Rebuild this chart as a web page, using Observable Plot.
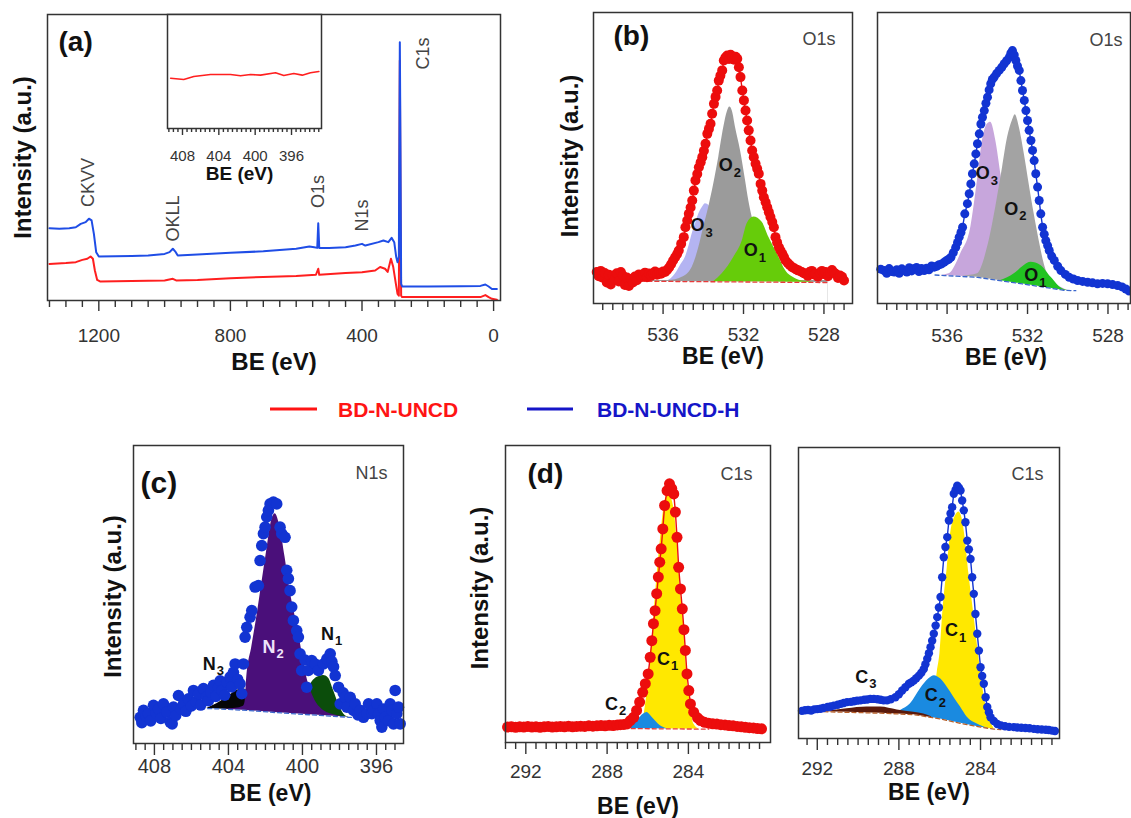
<!DOCTYPE html>
<html>
<head>
<meta charset="utf-8">
<script src="https://cdn.jsdelivr.net/npm/d3@7"></script>
<script src="https://cdn.jsdelivr.net/npm/@observablehq/plot@0.6"></script>
<style>
  html, body { margin: 0; padding: 0; background: #fff; }
  #fig { position: relative; width: 1131px; height: 818px; overflow: hidden; background: #fff; }
</style>
</head>
<body>
<div id="fig"></div>
<script>
// ---------------- DATA ----------------
const seriesNames = ["BD-N-UNCD", "BD-N-UNCD-H"];

// (a) survey spectra [BE eV, intensity a.u.]
const surveyRed = [[1350,12.8],[1300,13.1],[1270,13.4],[1250,14.2],[1235,14.6],[1225,15.4],[1218,14.6],[1212,10.5],[1205,7.2],[1195,6.6],[1100,6.8],[1000,7.0],[975,7.6],[965,7.0],[900,7.2],[800,7.8],[700,8.2],[600,8.6],[540,9.0],[533,11.1],[530,9.0],[450,9.6],[400,9.9],[360,10.5],[345,11.7],[330,11.1],[322,10.0],[312,14.6],[305,11.7],[297,5.8],[292,2.3],[288,1.7],[285,83.9],[283,35],[281,1.7],[278,1.2],[200,1.2],[40,1.2],[25,1.9],[15,1.2],[5,0.6],[-10,0.3]];
const surveyBlue = [[1350,25.3],[1320,25.1],[1290,25.3],[1270,25.6],[1255,26.8],[1240,27.4],[1230,28.6],[1222,28.0],[1215,23.3],[1208,16.9],[1200,15.4],[1150,15.5],[1100,15.6],[1050,15.7],[1000,16.3],[985,16.9],[975,18.1],[968,17.2],[960,15.7],[900,16.1],[800,16.7],[700,17.2],[600,18.1],[560,18.9],[545,18.6],[536,18.4],[533,27.0],[530,18.4],[500,18.4],[450,18.6],[420,19.2],[400,19.8],[390,19.2],[350,20.4],[335,21.0],[320,20.4],[310,21.9],[302,20.4],[296,15.2],[292,13.4],[288,15.2],[285,90.3],[283,52.4],[281,5.8],[278,4.9],[200,4.9],[100,5.0],[40,5.1],[25,5.6],[15,4.9],[5,4.0],[-10,4.0]];
const surveyPeaks = [{x:1231,y:41.3,t:"CKVV"},{x:972.6,y:28.7,t:"OKLL"},{x:532,y:38.1,t:"O1s"},{x:398,y:29.7,t:"N1s"},{x:212.8,y:86.4,t:"C1s"}];
const insetRed = [[409.3,44.1],[407.86,43.0],[406.76,45.6],[404.92,47.4],[402.72,47.4],[401.61,46.2],[400.51,47.4],[399.41,46.8],[397.76,48.9],[396.85,46.5],[395.75,48.2],[394.82,46.8],[393.91,48.9],[392.99,50.0]];

// (b) O1s, BD-N-UNCD
const o1sRed = [[539.3,10.8],[539.2,9.4],[539.1,11.2],[539.0,8.9],[538.9,10.5],[538.8,7.2],[538.7,9.9],[538.6,6.5],[538.5,9.6],[538.4,8.4],[538.3,10.4],[538.2,7.6],[538.1,10.8],[538.0,9.6],[537.9,6.4],[537.8,8.9],[537.7,6.0],[537.6,8.4],[537.5,7.2],[537.4,9.3],[537.3,8.0],[537.2,10.0],[537.1,9.2],[537.0,9.8],[536.9,10.6],[536.8,9.0],[536.7,10.3],[536.6,9.5],[536.5,10.4],[536.4,11.0],[536.3,9.9],[536.2,10.6],[536.1,10.2],[536.0,11.0],[535.9,10.8],[535.8,11.5],[535.7,12.4],[535.6,13.5],[535.5,14.8],[535.4,15.9],[535.3,17.0],[535.22,18.2],[535.1,20.5],[534.97,22.8],[534.89,26.2],[534.8,28.5],[534.72,30.8],[534.63,33.0],[534.55,35.4],[534.47,38.8],[534.39,42.3],[534.3,44.5],[534.22,46.8],[534.13,48.5],[534.05,50.3],[533.97,52.5],[533.89,54.9],[533.8,58.3],[533.72,60.0],[533.64,61.8],[533.56,65.2],[533.47,68.6],[533.39,71.0],[533.31,73.2],[533.23,76.6],[533.15,78.3],[533.06,80.1],[532.98,83.5],[532.9,84.5],[532.81,85.2],[532.72,84.0],[532.64,85.5],[532.56,84.6],[532.47,83.8],[532.39,84.8],[532.31,84.1],[532.23,81.2],[532.15,77.8],[532.06,73.2],[531.98,69.8],[531.9,66.3],[531.82,62.9],[531.74,59.5],[531.65,56.0],[531.57,52.6],[531.49,50.3],[531.4,48.0],[531.32,46.3],[531.24,44.6],[531.15,41.1],[531.07,38.8],[530.99,36.5],[530.9,34.8],[530.82,33.1],[530.74,31.4],[530.66,29.7],[530.57,28.0],[530.49,26.2],[530.41,22.8],[530.33,21.0],[530.24,19.3],[530.16,18.2],[530.07,17.1],[529.99,16.0],[529.91,14.8],[529.8,13.9],[529.7,13.2],[529.58,12.5],[529.46,12.0],[529.35,11.6],[529.25,11.3],[529.1,10.8],[529.0,10.4],[528.92,10.2],[528.8,9.5],[528.7,10.9],[528.6,11.2],[528.5,10.0],[528.42,10.2],[528.3,9.2],[528.2,10.6],[528.1,11.2],[528.0,10.1],[527.92,10.8],[527.8,9.4],[527.7,10.5],[527.6,11.5],[527.5,10.6],[527.42,10.2],[527.3,8.8],[527.2,9.6],[527.1,9.2],[527.0,7.9]];
const o1sRedBase = [[537.8,7.6],[536,7.6],[534,7.5],[532,7.4],[530,7.3],[527.8,7.2]];
const o1sRedO3 = [[535.9,7.6],[535.6,8.5],[535.38,10.2],[535.1,13.5],[534.89,15.9],[534.7,20.0],[534.55,24.0],[534.38,27.5],[534.22,30.8],[534.05,33.0],[533.89,34.3],[533.7,33.5],[533.5,30.0],[533.2,22.0],[532.9,15.0],[532.6,10.5],[532.2,8.0],[531.8,7.4]];
const o1sRedO2 = [[537.7,7.9],[536.5,7.9],[535.72,7.9],[535.05,9.0],[534.55,12.5],[534.22,19.3],[533.98,26.2],[533.73,33.1],[533.48,41.1],[533.23,50.3],[532.98,60.6],[532.8,66.0],[532.68,67.5],[532.55,66.0],[532.4,60.6],[532.15,52.6],[531.9,42.3],[531.74,35.4],[531.57,29.7],[531.24,20.5],[530.9,13.6],[530.41,9.6],[529.75,8.1],[528.5,7.9],[527.8,7.9]];
const o1sRedO1 = [[533.5,7.4],[533.06,10.2],[532.48,15.9],[532.06,21.6],[531.82,27.4],[531.49,29.7],[531.07,27.9],[530.74,22.8],[530.32,17.1],[529.91,11.3],[529.41,8.5],[529.08,7.7],[528.6,7.4]];
const o1sRedLabels = [{x:532.53,y:47.4,t:"O",s:"2"},{x:533.94,y:26.8,t:"O",s:"3"},{x:531.29,y:18.2,t:"O",s:"1"}];

// (b) O1s, BD-N-UNCD-H
const o1sBlue = [[539.3,11.8],[539.13,11.3],[539.0,10.4],[538.88,12.0],[538.75,11.0],[538.63,10.8],[538.5,11.6],[538.38,10.4],[538.25,11.9],[538.13,11.3],[538.0,10.8],[537.88,12.3],[537.76,11.2],[537.64,11.9],[537.52,12.4],[537.4,11.0],[537.27,12.0],[537.14,11.3],[537.02,12.1],[536.9,11.6],[536.77,12.9],[536.64,12.5],[536.52,12.8],[536.4,13.3],[536.27,13.6],[536.14,14.2],[536.02,14.8],[535.92,15.2],[535.81,15.9],[535.69,17.5],[535.57,19.3],[535.48,21.0],[535.40,22.8],[535.31,24.4],[535.23,26.2],[535.12,30.8],[534.99,34.3],[534.90,37.7],[534.82,41.1],[534.74,44.6],[534.65,48.0],[534.57,51.4],[534.49,54.9],[534.40,58.3],[534.32,61.7],[534.24,64.0],[534.15,66.3],[534.07,68.8],[533.99,70.9],[533.91,73.4],[533.83,75.5],[533.75,77.0],[533.66,77.8],[533.54,79.0],[533.41,80.1],[533.28,81.2],[533.16,82.4],[533.04,83.4],[532.91,84.6],[532.83,86.0],[532.75,86.9],[532.66,85.4],[532.58,83.5],[532.50,81.6],[532.41,80.1],[532.33,76.6],[532.25,73.2],[532.16,69.8],[532.08,66.3],[532.0,62.9],[531.92,59.5],[531.83,56.0],[531.75,52.6],[531.67,49.1],[531.59,44.6],[531.50,40.0],[531.42,35.4],[531.34,30.8],[531.25,26.2],[531.17,23.8],[531.09,21.6],[531.0,19.9],[530.92,18.2],[530.8,16.3],[530.67,14.8],[530.5,12.8],[530.34,11.3],[530.12,10.0],[529.93,9.0],[529.72,8.4],[529.51,7.9],[529.26,7.6],[529.01,7.3],[528.77,7.1],[528.52,6.8],[528.27,6.9],[528.02,6.8],[527.77,6.5],[527.52,6.2],[527.3,5.7],[527.11,5.0],[526.95,4.3]];
const o1sBlueBase = [[536.6,9.8],[536.14,9.6],[534.49,9.0],[532.83,7.3],[531.17,5.6],[530.17,4.5],[529.6,4.4]];
const o1sBlueO3 = [[536.5,9.5],[535.9,10.2],[535.32,17.1],[534.82,26.2],[534.49,42.3],[534.24,56.0],[533.99,61.7],[533.83,62.3],[533.58,56.0],[533.33,44.6],[533.08,33.1],[532.83,21.6],[532.5,12.5],[532.0,7.0],[531.5,5.8]];
const o1sBlueO2 = [[535.2,9.4],[534.49,10.2],[533.99,19.3],[533.58,33.1],[533.24,46.8],[532.99,57.1],[532.75,62.9],[532.61,64.9],[532.41,60.6],[532.16,51.4],[531.92,41.1],[531.67,30.8],[531.42,21.6],[531.17,13.6],[530.83,7.9],[530.5,6.2],[530.0,4.5]];
const o1sBlueO1 = [[533.6,7.5],[533.33,7.9],[532.66,10.2],[532.16,13.1],[531.83,14.2],[531.34,13.1],[530.83,9.0],[530.26,5.0],[529.9,4.4]];
const o1sBlueLabels = [{x:533.88,y:44.6,t:"O",s:"3"},{x:532.46,y:32.5,t:"O",s:"2"},{x:531.47,y:9.6,t:"O",s:"1"}];

// (c) N1s, BD-N-UNCD-H
const n1sBlue = [[408.77,8.8],[408.68,7.0],[408.59,11.1],[408.45,9.2],[408.32,10.0],[408.2,7.6],[408.05,12.8],[407.9,10.2],[407.78,11.6],[407.65,8.4],[407.51,13.3],[407.33,10.5],[407.15,7.2],[407.04,6.6],[406.97,12.2],[406.85,9.4],[406.70,16.1],[406.55,11.5],[406.43,13.3],[406.3,10.8],[406.16,15.0],[406.0,12.6],[405.89,17.8],[405.75,14.0],[405.62,16.7],[405.5,12.9],[405.35,18.4],[405.2,15.6],[405.08,14.4],[404.95,17.2],[404.81,19.5],[404.68,15.8],[404.54,18.9],[404.45,21.0],[404.36,17.8],[404.2,16.2],[404.09,20.6],[403.91,22.3],[403.82,19.0],[403.73,23.9],[403.64,26.7],[403.5,21.5],[403.37,20.0],[403.28,16.7],[403.19,26.7],[403.10,35.7],[403.01,39.0],[402.83,42.4],[402.74,44.6],[402.56,52.5],[402.38,53.0],[402.29,61.4],[402.20,66.4],[402.11,70.4],[402.02,72.6],[401.93,76.0],[401.84,78.2],[401.75,80.4],[401.57,81.0],[401.39,80.4],[401.21,72.6],[401.12,70.4],[400.94,69.2],[400.85,58.1],[400.76,55.3],[400.67,51.3],[400.58,45.8],[400.49,41.3],[400.31,37.9],[400.22,35.7],[400.13,30.1],[400.04,24.5],[399.86,28.0],[399.77,18.9],[399.68,24.5],[399.50,27.8],[399.32,26.7],[399.14,24.5],[398.86,26.7],[398.68,28.4],[398.50,30.1],[398.41,27.5],[398.32,25.7],[398.23,22.8],[398.05,18.9],[397.96,13.3],[397.8,17.0],[397.69,15.5],[397.6,12.2],[397.42,15.5],[397.24,11.1],[397.15,13.3],[397.0,9.6],[396.88,11.1],[396.70,8.8],[396.52,10.0],[396.43,13.3],[396.25,10.0],[396.16,11.1],[395.98,13.3],[395.89,10.0],[395.8,7.7],[395.71,5.5],[395.62,11.6],[395.53,8.8],[395.35,7.7],[395.26,13.3],[395.17,11.1],[395.08,6.6],[394.99,17.8],[394.90,10.0],[394.81,12.2],[394.72,6.6]];
const n1sBase = [[405.5,11.8],[404.5,11.6],[403,11.1],[401.5,10.4],[400,9.8],[398.5,9.2],[397.5,8.8],[397.0,8.6]];
const n1sN3 = [[405.2,11.7],[404.63,13.3],[404.09,15.5],[403.55,17.8],[403.19,18.4],[402.83,16.7],[402.29,13.9],[401.75,11.6],[401.21,10.5],[400.67,10.0]];
const n1sN2 = [[404.2,11.5],[403.6,11.8],[403.19,12.5],[403.10,14.0],[403.01,22.3],[402.74,32.3],[402.47,42.4],[402.20,53.6],[401.93,64.8],[401.66,75.0],[401.48,77.1],[401.21,72.6],[400.94,62.5],[400.67,51.3],[400.31,40.2],[400.04,31.2],[399.77,22.3],[399.41,15.6],[398.86,11.1],[398.14,9.4],[397.6,8.8]];
const n1sN1 = [[400.3,9.9],[400.0,12.0],[399.77,17.0],[399.41,21.2],[399.1,22.5],[398.86,22.8],[398.6,22.0],[398.32,17.8],[398.05,13.3],[397.78,10.0],[397.5,8.8]];
const n1sLabels = [{x:404.68,y:26.7,t:"N",s:"3"},{x:401.45,y:32.3,t:"N",s:"2"},{x:398.29,y:36.8,t:"N",s:"1"}];

// (d) C1s, BD-N-UNCD
const c1sRed = [[292.9,5.2],[292.7,5.3],[292.5,5.1],[292.3,5.3],[292.1,5.2],[291.9,5.4],[291.7,5.2],[291.5,5.3],[291.3,5.1],[291.1,5.3],[290.9,5.4],[290.7,5.2],[290.5,5.3],[290.3,5.4],[290.1,5.3],[289.9,5.5],[289.7,5.3],[289.5,5.4],[289.3,5.5],[289.1,5.4],[288.9,5.6],[288.7,5.5],[288.5,5.6],[288.3,5.7],[288.1,5.6],[287.9,5.8],[287.7,5.7],[287.5,5.9],[287.35,6.0],[287.18,6.1],[287.02,6.3],[286.86,7.4],[286.69,8.5],[286.55,10.8],[286.4,13.6],[286.25,16.9],[286.12,19.8],[285.98,23.1],[285.88,28.7],[285.8,34.3],[285.72,40.0],[285.64,44.4],[285.56,50.1],[285.48,55.7],[285.41,60.7],[285.34,65.2],[285.26,71.9],[285.17,79.8],[285.05,84.8],[284.93,87.1],[284.82,85.5],[284.72,83.7],[284.64,77.6],[284.56,69.1],[284.48,59.0],[284.39,51.7],[284.3,45.0],[284.22,38.0],[284.15,31.0],[284.07,23.1],[283.98,17.5],[283.9,13.0],[283.74,10.2],[283.55,8.3],[283.4,7.4],[283.2,6.8],[283.0,6.5],[282.8,6.3],[282.6,6.2],[282.4,6.0],[282.2,5.9],[282.0,5.7],[281.8,5.6],[281.6,5.4],[281.4,5.3],[281.2,5.1],[281.0,5.0],[280.8,4.9],[280.6,4.7],[280.4,4.6]];
const c1sRedBase = [[287.5,4.7],[283.0,4.5]];
const c1sRedC1 = [[286.6,4.7],[286.28,6.5],[286.04,16.4],[285.79,34.3],[285.63,48.9],[285.38,68.0],[285.13,82.0],[284.97,83.7],[284.72,79.2],[284.56,68.0],[284.39,51.2],[284.23,39.9],[284.07,23.1],[283.9,13.0],[283.74,6.3],[283.5,4.6]];
const c1sRedC2 = [[287.0,4.7],[286.86,5.3],[286.53,7.3],[286.2,9.6],[286.04,10.1],[285.79,8.5],[285.38,5.6],[285.05,4.6]];
const c1sRedLabels = [{x:284.9,y:28.2,t:"C",s:"1"},{x:287.46,y:13.0,t:"C",s:"2"}];

// (d) C1s, BD-N-UNCD-H
const c1sBlue = [[292.75,9.5],[292.6,9.7],[292.45,9.8],[292.3,9.6],[292.15,10.0],[292.0,10.1],[291.84,10.2],[291.7,10.5],[291.5,10.8],[291.35,11.0],[291.19,11.3],[291.0,11.6],[290.85,11.9],[290.7,12.2],[290.54,12.5],[290.35,12.6],[290.2,12.8],[290.05,13.0],[289.88,13.1],[289.7,13.3],[289.55,13.4],[289.4,13.6],[289.23,13.6],[289.05,13.5],[288.9,13.3],[288.75,13.1],[288.58,13.1],[288.4,13.5],[288.17,14.2],[288.0,15.2],[287.84,16.5],[287.68,17.6],[287.51,18.8],[287.39,19.3],[287.27,19.9],[287.15,20.7],[287.02,21.6],[286.9,22.6],[286.78,23.9],[286.7,25.5],[286.61,27.4],[286.53,29.3],[286.45,31.4],[286.37,33.6],[286.29,36.0],[286.2,38.8],[286.12,41.7],[286.04,45.0],[285.96,48.6],[285.88,55.4],[285.80,62.3],[285.72,65.8],[285.63,69.2],[285.55,74.9],[285.47,77.3],[285.39,79.5],[285.31,84.1],[285.22,85.5],[285.14,86.9],[285.06,86.2],[284.98,85.2],[284.90,81.8],[284.82,78.4],[284.74,74.3],[284.65,68.0],[284.57,65.0],[284.49,61.7],[284.41,55.4],[284.33,49.7],[284.25,42.8],[284.16,36.0],[284.08,30.2],[284.0,24.5],[283.92,21.5],[283.84,18.8],[283.75,14.2],[283.67,10.8],[283.59,9.0],[283.51,7.3],[283.35,6.0],[283.18,5.0],[283.0,4.5],[282.8,4.2],[282.6,4.0],[282.37,3.9],[282.2,3.8],[282.0,3.7],[281.8,3.6],[281.6,3.5],[281.39,3.3],[281.2,3.2],[281.0,3.1],[280.8,3.0],[280.65,2.9],[280.49,2.7],[280.35,2.6]];
const c1sBlueBase = [[292.7,9.4],[290.54,9.0],[288.9,8.7],[287.27,8.2],[285.96,6.7],[284.98,5.2],[284.0,3.9],[283.35,3.2],[283.0,3.1]];
const c1sBlueC3 = [[291.8,9.2],[291.35,9.5],[290.54,10.2],[289.56,10.8],[288.9,10.8],[288.08,9.8],[287.27,9.0],[286.78,8.4],[286.4,7.5]];
const c1sBlueC1 = [[286.6,8.0],[286.3,13.0],[286.12,22.8],[285.99,29.1],[285.83,45.1],[285.63,58.8],[285.47,70.3],[285.22,76.6],[285.06,77.8],[284.9,75.5],[284.74,68.0],[284.57,56.6],[284.33,42.8],[284.08,27.9],[283.84,15.3],[283.59,7.3],[283.35,3.6]];
const c1sBlueC2 = [[288.2,8.6],[287.92,9.6],[287.43,11.9],[286.94,17.1],[286.53,20.5],[286.26,21.6],[285.96,20.5],[285.63,17.6],[285.31,14.2],[284.98,10.8],[284.65,7.3],[284.16,5.0],[283.67,3.6]];
const c1sBlueLabels = [{x:285.11,y:37.1,t:"C",s:"1"},{x:286.1,y:14.8,t:"C",s:"2"},{x:289.5,y:21.1,t:"C",s:"3"}];

// tick labels
const surveyTicks = [1200, 800, 400, 0];
const insetTicks = [408, 404, 400, 396];
const o1sTicks = [536, 532, 528];
const n1sTicks = [408, 404, 400, 396];
const c1sTicks = [292, 288, 284];

// ---------------- DRAWING ----------------
const FONT = "'Liberation Sans', Arial, Helvetica, sans-serif";
const RED = "#ec0d0d", BLUE = "#1234d2";
const fig = document.getElementById("fig");
const xy = {x: d => d[0], y: d => d[1]};

const areaMark = (data, fill) => Plot.areaY(data, {...xy, fill, curve: "monotone-x"});
const maskMark = base => Plot.areaY(base, {...xy, fill: "white"});
const baseLine = (base, stroke) => Plot.line(base, {...xy, stroke, strokeWidth: 1.3, strokeDasharray: "4,3"});
const dataLine = (pts, stroke) => Plot.line(pts, {...xy, stroke, strokeWidth: 1.4});
const dots = (pts, fill, r) => Plot.dot(pts, {...xy, fill, r});
function compLabels(labels, fills) {
  return labels.flatMap((l, i) => {
    const fill = fills ? fills[i] : "#111";
    return [
      Plot.text([l], {x: d => d.x, y: d => d.y, text: d => d.t, textAnchor: "end", lineAnchor: "middle", fontSize: 18, fontWeight: "bold", fill}),
      Plot.text([l], {x: d => d.x, y: d => d.y, text: d => d.s, textAnchor: "start", lineAnchor: "middle", dx: 1, dy: 7, fontSize: 13, fontWeight: "bold", fill})
    ];
  });
}

function buildPanel(p) {
  const marks = [];
  if (p.whiteFrame) marks.push(Plot.frame({fill: "white", stroke: "none"}));
  marks.push(...p.content);
  const minor = p.minor.filter(t => !p.major.includes(t));
  marks.push(Plot.axisX(minor, {anchor: "bottom", tickSize: p.minorSize, tickFormat: () => "", label: null, color: "#333", strokeWidth: 1.4}));
  marks.push(Plot.axisX(p.major, {anchor: "bottom", tickSize: p.majorSize, tickPadding: p.tickPadding, tickFormat: d => String(d), label: null, color: "#333", strokeWidth: 1.4, fontSize: p.tickFont}));
  marks.push(Plot.frame({stroke: "#333", strokeWidth: 1.5}));
  marks.push(Plot.text(["BE (eV)"], {frameAnchor: "bottom", dx: p.xTitleDx || 0, dy: p.xTitleDy, text: d => d, lineAnchor: "middle", fontSize: p.xTitleFont || 23, fontWeight: "bold", fill: "#111"}));
  if (p.yTitle) marks.push(Plot.text(["Intensity (a.u.)"], {frameAnchor: "left", rotate: -90, dx: p.yTitleDx, dy: p.yTitleDy || 0, text: d => d, textAnchor: "middle", lineAnchor: "middle", fontSize: 24, fontWeight: "bold", fill: "#111"}));
  if (p.letter) marks.push(Plot.text([p.letter], {frameAnchor: "top-left", dx: p.letterDx, dy: p.letterDy, text: d => d, textAnchor: "start", lineAnchor: "middle", fontSize: p.letterFont || 28, fontWeight: "bold", fill: "#111"}));
  if (p.corner) marks.push(Plot.text([p.corner], {frameAnchor: "top-right", dx: p.cornerDx, dy: p.cornerDy, text: d => d, textAnchor: "end", lineAnchor: "middle", fontSize: 18, fill: "#444"}));
  const svg = Plot.plot({
    width: p.width, height: p.height,
    marginLeft: p.ml, marginRight: p.mr, marginTop: p.mt, marginBottom: p.mb,
    x: {domain: p.domain},
    y: {domain: [0, 100], axis: null},
    style: {fontFamily: FONT, fontSize: p.tickFont + "px", background: "transparent", color: "#333", overflow: "visible"},
    marks
  });
  svg.style.position = "absolute";
  svg.style.left = p.left + "px";
  svg.style.top = p.top + "px";
  fig.appendChild(svg);
}

// (a) survey
buildPanel({
  left: 0, top: 0, width: 515, height: 380, ml: 47, mr: 15, mt: 14, mb: 80,
  domain: [1356, -21], major: surveyTicks, minor: d3.range(0, 1351, 50),
  majorSize: 11, minorSize: 7, tickPadding: 17, tickFont: 19,
  xTitleDy: 62, xTitleFont: 24, yTitle: true, yTitleDx: -24, letter: "(a)", letterDx: 11, letterDy: 28,
  content: [
    Plot.line(surveyRed, {...xy, stroke: "#ff1f1f", strokeWidth: 2}),
    Plot.line(surveyBlue, {...xy, stroke: "#1f4de6", strokeWidth: 2}),
    Plot.text(surveyPeaks, {x: d => d.x, y: d => d.y, text: d => d.t, rotate: -90, textAnchor: "middle", lineAnchor: "middle", fontSize: 18, fill: "#444"})
  ]
});
// inset
buildPanel({
  left: 150, top: 0, width: 190, height: 185, ml: 17, mr: 19, mt: 14, mb: 57, whiteFrame: true,
  domain: [409.65, 392.7], major: insetTicks, minor: d3.range(393, 409.6, 0.5),
  majorSize: 7, minorSize: 4, tickPadding: 15, tickFont: 15,
  xTitleDy: 45, xTitleDx: -5, xTitleFont: 19,
  content: [Plot.line(insetRed, {...xy, stroke: "#ff1f1f", strokeWidth: 1.6})]
});
// (b) left
buildPanel({
  left: 520, top: 0, width: 340, height: 380, ml: 73, mr: 8, mt: 12, mb: 77,
  domain: [539.46, 526.58], major: o1sTicks, minor: d3.range(527, 539.1, 0.5),
  majorSize: 11, minorSize: 7, tickPadding: 13, tickFont: 19,
  xTitleDy: 53, yTitle: true, yTitleDx: -23, yTitleDy: -2,
  letter: "(b)", letterDx: 20, letterDy: 24, corner: "O1s", cornerDx: -17, cornerDy: 27,
  content: [
    areaMark(o1sRedO3, "#b4b4f2"), areaMark(o1sRedO2, "#9b9b9b"), areaMark(o1sRedO1, "#66cc0a"),
    maskMark(o1sRedBase), baseLine(o1sRedBase, "#e83a3a"),
    dataLine(o1sRed, RED), dots(o1sRed, RED, 5),
    ...compLabels(o1sRedLabels)
  ]
});
// (b) right
buildPanel({
  left: 860, top: 0, width: 271, height: 380, ml: 17, mr: 1, mt: 12, mb: 77,
  domain: [539.46, 526.88], major: o1sTicks, minor: d3.range(527, 539.1, 0.5),
  majorSize: 11, minorSize: 7, tickPadding: 14, tickFont: 19,
  xTitleDy: 54, xTitleDx: 2, corner: "O1s", cornerDx: -8, cornerDy: 28,
  content: [
    areaMark(o1sBlueO3, "#c7a6dc"), areaMark(o1sBlueO2, "#a3a3a3"), areaMark(o1sBlueO1, "#22c322"),
    maskMark(o1sBlueBase), baseLine(o1sBlueBase, "#3a66cc"),
    dataLine(o1sBlue, BLUE), dots(o1sBlue, BLUE, 4.5),
    ...compLabels(o1sBlueLabels)
  ]
});
// (c)
buildPanel({
  left: 90, top: 430, width: 330, height: 388, ml: 43, mr: 17, mt: 15, mb: 75,
  domain: [409.13, 394.54], major: n1sTicks, minor: d3.range(395, 409.01, 0.5),
  majorSize: 12, minorSize: 7, tickPadding: 3, tickFont: 20,
  xTitleDy: 50, xTitleDx: 2, yTitle: true, yTitleDx: -20, yTitleDy: 2,
  letter: "(c)", letterDx: 7, letterDy: 38, letterFont: 30, corner: "N1s", cornerDx: -16, cornerDy: 28,
  content: [
    areaMark(n1sN3, "#060606"), areaMark(n1sN1, "#0b4d0b"), areaMark(n1sN2, "#4a0f7a"),
    maskMark(n1sBase), baseLine(n1sBase, "#3a66cc"),
    dots(n1sBlue, BLUE, 5.8),
    ...compLabels(n1sLabels, ["#111", "#efe3fa", "#111"])
  ]
});
// (d) left
buildPanel({
  left: 440, top: 430, width: 340, height: 388, ml: 65, mr: 10, mt: 15, mb: 76,
  domain: [293.0, 279.96], major: c1sTicks, minor: d3.range(280.5, 293.01, 0.5),
  majorSize: 12, minorSize: 7, tickPadding: 10, tickFont: 19,
  xTitleDy: 64, yTitle: true, yTitleDx: -25, yTitleDy: -6,
  letter: "(d)", letterDx: 22, letterDy: 29, corner: "C1s", cornerDx: -18, cornerDy: 29,
  content: [
    areaMark(c1sRedC1, "#ffe800"), areaMark(c1sRedC2, "#1a8ae0"),
    maskMark(c1sRedBase), baseLine(c1sRedBase, "#e83a3a"),
    dataLine(c1sRed, RED), dots(c1sRed, RED, 5.5),
    ...compLabels(c1sRedLabels)
  ]
});
// (d) right
buildPanel({
  left: 780, top: 430, width: 351, height: 388, ml: 18, mr: 72, mt: 17, mb: 80,
  domain: [292.92, 280.13], major: c1sTicks, minor: d3.range(280.5, 292.91, 0.5),
  majorSize: 12, minorSize: 7, tickPadding: 11, tickFont: 19,
  xTitleDy: 54, corner: "C1s", cornerDx: -16, cornerDy: 27,
  content: [
    areaMark(c1sBlueC1, "#ffe800"), areaMark(c1sBlueC2, "#1a8ae0"), areaMark(c1sBlueC3, "#5a1a0c"),
    maskMark(c1sBlueBase), baseLine(c1sBlueBase, "#b8602a"),
    dataLine(c1sBlue, BLUE), dots(c1sBlue, BLUE, 4.2),
    ...compLabels(c1sBlueLabels)
  ]
});

// legend
const legColors = ["#ff1414", "#1515c8"];
const legLine = [[270, 317], [527, 573]];
const legText = [338, 597];
const leg = d3.create("svg").attr("width", 1131).attr("height", 40)
  .style("position", "absolute").style("left", "0px").style("top", "390px");
seriesNames.forEach((name, i) => {
  leg.append("line").attr("x1", legLine[i][0]).attr("x2", legLine[i][1]).attr("y1", 19).attr("y2", 19)
    .attr("stroke", legColors[i]).attr("stroke-width", 3);
  leg.append("text").attr("x", legText[i]).attr("y", 26.5).attr("fill", legColors[i])
    .attr("font-family", FONT).attr("font-size", 21).attr("font-weight", "bold").text(name);
});
fig.appendChild(leg.node());
</script>
</body>
</html>
